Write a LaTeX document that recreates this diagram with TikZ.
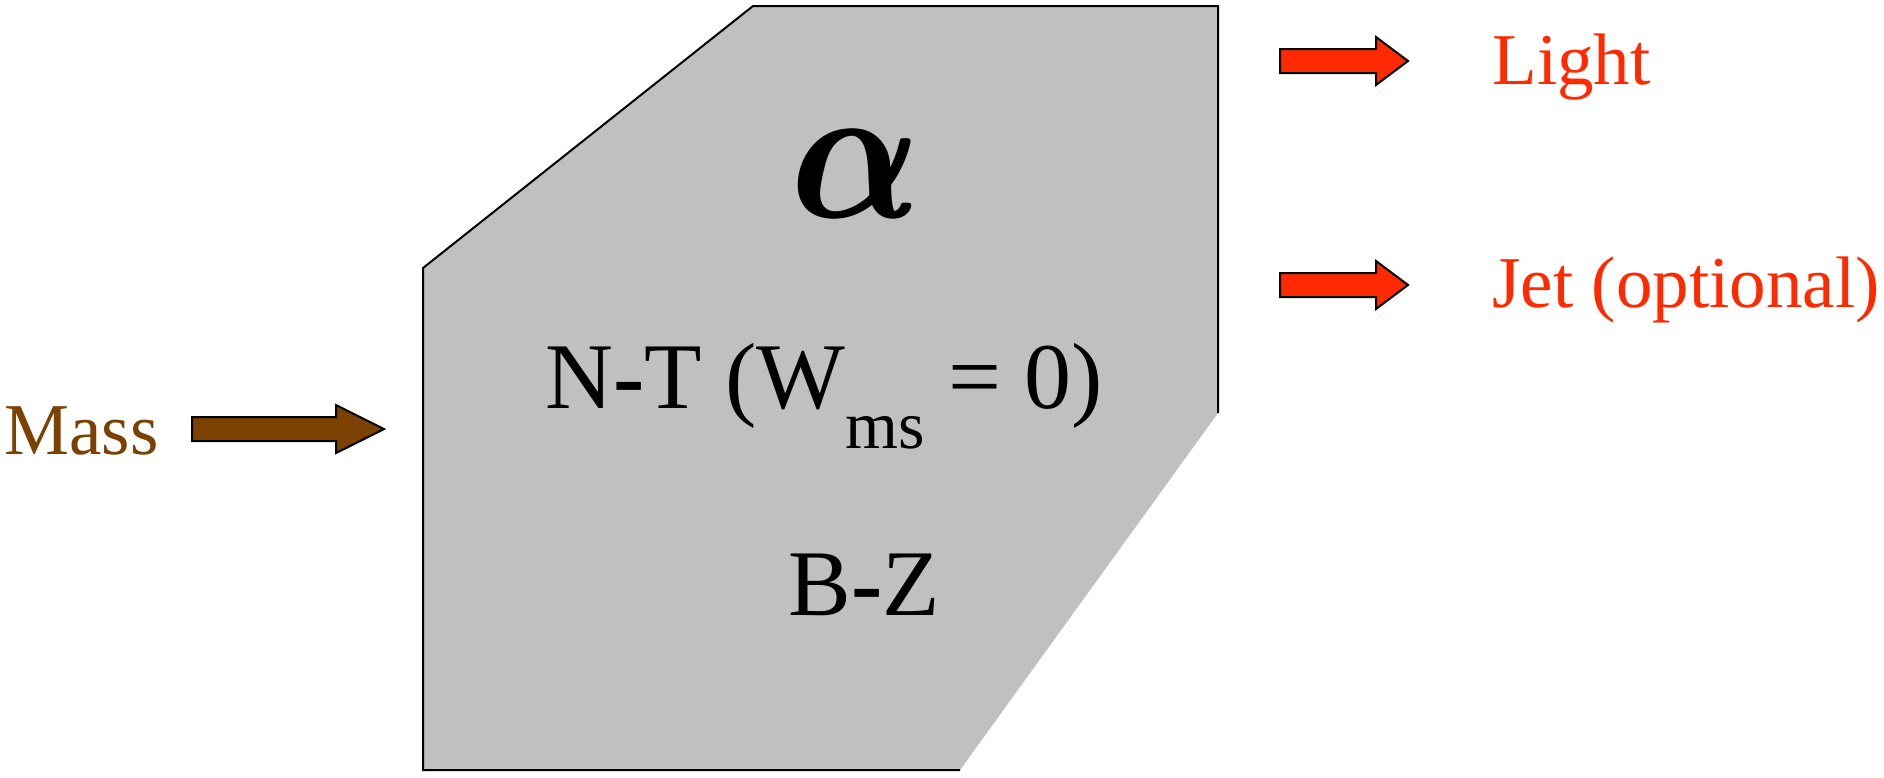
\documentclass[tikz,border=0pt]{standalone}
\usepackage{bm}
\usepackage{graphicx}
\usepackage{fontspec}
\setmainfont{Liberation Serif}
\definecolor{boxgray}{RGB}{192,192,192}
\definecolor{massbrown}{RGB}{123,65,0}
\definecolor{outred}{RGB}{255,42,0}
\newcommand{\bigalpha}{\scalebox{8.4}[9.8]{$\bm{\alpha}$}}
\tikzset{
  blockarrow/.style={draw=black, line width=1pt, line join=miter},
  massarrow/.style={blockarrow, fill=massbrown},
  outarrow/.style={blockarrow, fill=outred},
  label/.style={inner sep=0pt, anchor=base west, font=\fontsize{36.5pt}{40pt}\selectfont},
  inlabel/.style={inner sep=0pt, anchor=base west, font=\fontsize{47pt}{50pt}\selectfont},
}
\begin{document}
\begin{tikzpicture}[x=0.5pt,y=-0.5pt]
\useasboundingbox (0,0) rectangle (1884,777);
% region
\fill[boxgray] (423,268) -- (753,6) -- (1218,6) -- (1218,413) -- (960,770) -- (423,770) -- cycle;
\draw[line width=1pt, line join=miter] (960,770) -- (423,770) -- (423,268) -- (753,6) -- (1218,6) -- (1218,413);
% labels inside
\node[inner sep=0pt, anchor=center] (alpha) at (856,174) {\rlap{\bigalpha}\hspace{1.2pt}\bigalpha};
\node[inlabel] (nt) at (545,408) {N{\bfseries -}T (W\raisebox{-0.43em}{\fontsize{34pt}{36pt}\selectfont ms} = 0)};
\node[inlabel] (bz) at (788,615) {B{\bfseries -}Z};
% mass input
\node[label, text=massbrown] (mass) at (4,454) {Mass};
\draw[massarrow] (192,417) -- (336,417) -- (336,405) -- (384,429) -- (336,453) -- (336,441) -- (192,441) -- cycle;
% outputs
\draw[outarrow] (1280,49) -- (1376,49) -- (1376,37) -- (1408,61) -- (1376,85) -- (1376,73) -- (1280,73) -- cycle;
\draw[outarrow] (1280,273) -- (1376,273) -- (1376,261) -- (1408,285) -- (1376,309) -- (1376,297) -- (1280,297) -- cycle;
\node[label, text=outred] (light) at (1492,84) {Light};
\node[label, text=outred] (jet) at (1492,307) {Jet (optional)};
\end{tikzpicture}
\end{document}
